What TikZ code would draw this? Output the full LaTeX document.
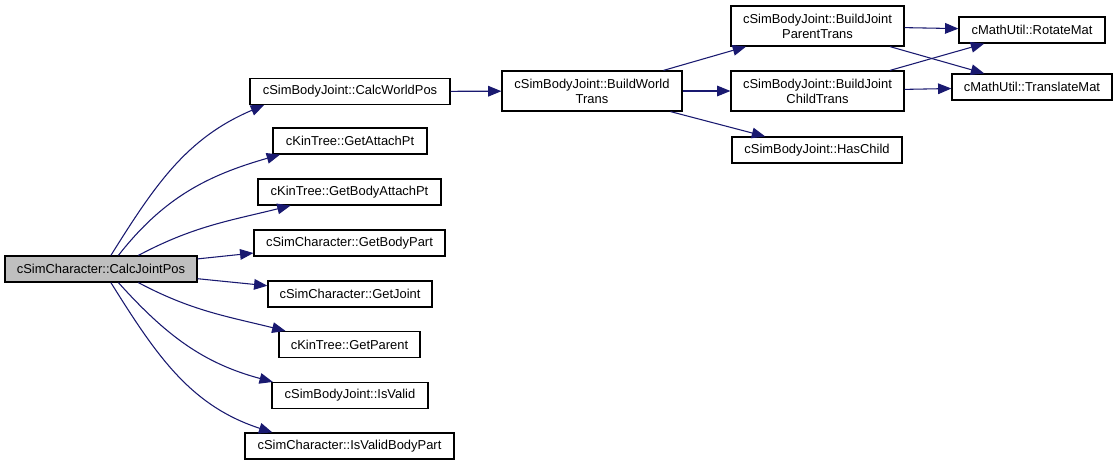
\documentclass[tikz,border=0pt]{standalone}
\usepackage{fontspec}
\setmainfont{Liberation Sans}
\usetikzlibrary{arrows.meta}
\definecolor{callblue}{HTML}{191970}
\definecolor{rootgray}{HTML}{BFBFBF}
\tikzset{
    fn-box/.style = {draw=black, fill=white, line width=0.9pt, rectangle, inner sep=0pt, minimum height=19.5pt, align=center, font=\fontsize{9.7pt}{11.3pt}\selectfont},
    fn-box-root/.style = {fn-box, fill=rootgray},
    fn-box-two/.style = {fn-box, minimum height=30pt},
    call-edge/.style = {draw=callblue, line width=0.8pt, -{Triangle[length=10pt,width=8pt]}},
}
\begin{document}
\begin{tikzpicture}[x=0.75pt, y=0.75pt]
\useasboundingbox (0,0) rectangle (1117,-465);
\fill[white] (0,0) rectangle (1117,-465);
% caller and first level
\node [fn-box-root, minimum width=144pt] (calcjoint) at (101,-269) {cSimCharacter::CalcJointPos};
\node [fn-box, minimum width=150pt] (worldpos) at (350,-91.5) {cSimBodyJoint::CalcWorldPos};
\node [fn-box, minimum width=115.5pt] (attachpt) at (350,-141) {cKinTree::GetAttachPt};
\node [fn-box, minimum width=137.25pt] (bodyattach) at (349.5,-192) {cKinTree::GetBodyAttachPt};
\node [fn-box, minimum width=143.25pt] (bodypart) at (349.5,-243) {cSimCharacter::GetBodyPart};
\node [fn-box, minimum width=123pt] (getjoint) at (350,-294) {cSimCharacter::GetJoint};
\node [fn-box, minimum width=105.75pt] (getparent) at (349.5,-344.5) {cKinTree::GetParent};
\node [fn-box, minimum width=117pt] (isvalid) at (350,-395.5) {cSimBodyJoint::IsValid};
\node [fn-box, minimum width=156.75pt] (validpart) at (349.5,-446) {cSimCharacter::IsValidBodyPart};
% deeper calls
\node [fn-box-two, minimum width=135pt] (worldtrans) at (592,-91) {cSimBodyJoint::BuildWorld\\Trans};
\node [fn-box-two, minimum width=129.75pt] (parenttrans) at (817.5,-26) {cSimBodyJoint::BuildJoint\\ParentTrans};
\node [fn-box-two, minimum width=129.75pt] (childtrans) at (817.5,-91) {cSimBodyJoint::BuildJoint\\ChildTrans};
\node [fn-box, minimum width=127.5pt] (haschild) at (817,-150) {cSimBodyJoint::HasChild};
\node [fn-box, minimum width=109.5pt] (rotatemat) at (1032,-30) {cMathUtil::RotateMat};
\node [fn-box, minimum width=120pt] (translatemat) at (1032,-87) {cMathUtil::TranslateMat};

\draw [call-edge] (calcjoint.54) to[out=58, in=203] (worldpos.189.2);
\draw [call-edge] (calcjoint.38) to[out=52, in=196] (attachpt.191);
\draw [call-edge] (calcjoint.20) to[out=28, in=194] (bodyattach.193);
\draw [call-edge] (calcjoint) -- (bodypart);
\draw [call-edge] (calcjoint) -- (getjoint);
\draw [call-edge] (calcjoint.-20) to[out=-28, in=166] (getparent.168);
\draw [call-edge] (calcjoint.-38) to[out=-48, in=165] (isvalid.170);
\draw [call-edge] (calcjoint.-54) to[out=-58, in=162] (validpart.170.5);
\draw [call-edge] (worldpos) -- (worldtrans);
\draw [call-edge] (worldtrans) -- (parenttrans);
\draw [call-edge] (worldtrans) -- (childtrans);
\draw [call-edge] (worldtrans) -- (haschild);
\draw [call-edge] (parenttrans) -- (rotatemat);
\draw [call-edge] (parenttrans) -- (translatemat);
\draw [call-edge] (childtrans) -- (rotatemat);
\draw [call-edge] (childtrans) -- (translatemat);
\end{tikzpicture}
\end{document}
